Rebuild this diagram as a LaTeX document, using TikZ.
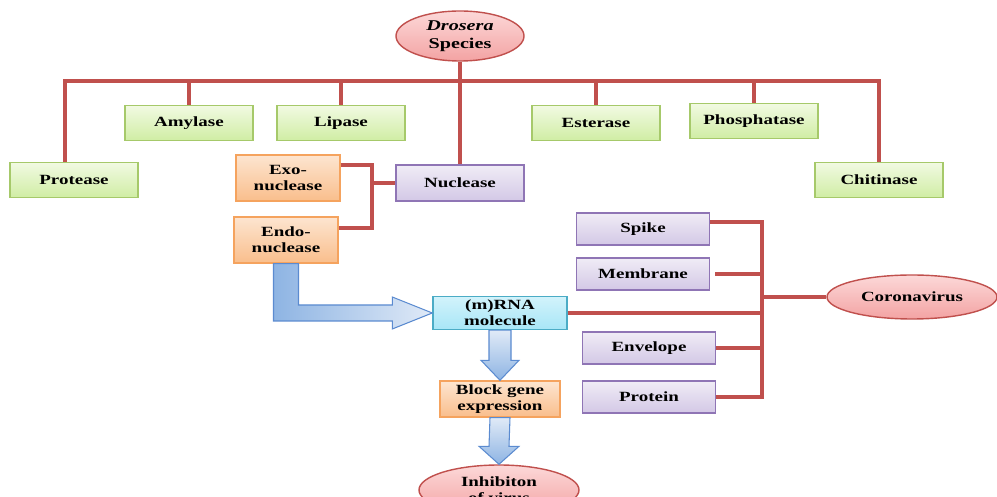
\documentclass[tikz,border=0pt]{standalone}
\usepackage{fontspec}
\newfontfamily\lblfont{Liberation Serif}[FakeStretch=1.35]
\usetikzlibrary{calc,shapes.geometric}
\definecolor{greenline}{HTML}{A6C96A}
\definecolor{greentop}{HTML}{F1FAE2}
\definecolor{greenbot}{HTML}{D0EDA4}
\definecolor{orangeline}{HTML}{F5A35E}
\definecolor{orangetop}{HTML}{FDE5D0}
\definecolor{orangebot}{HTML}{F9BE8C}
\definecolor{purpleline}{HTML}{8F75B5}
\definecolor{purpletop}{HTML}{F0ECF6}
\definecolor{purplebot}{HTML}{D3C8E6}
\definecolor{cyanline}{HTML}{4BACC6}
\definecolor{cyantop}{HTML}{D2F3FB}
\definecolor{cyanbot}{HTML}{A8E6F7}
\definecolor{redline}{HTML}{C0504D}
\definecolor{redtop}{HTML}{FCD8D8}
\definecolor{redbot}{HTML}{F3A3A3}
\definecolor{linkc}{HTML}{C0504D}
\definecolor{bluedark}{HTML}{8EB4E3}
\definecolor{bluelight}{HTML}{E0EAF7}
\definecolor{blueline}{HTML}{5B8BD0}
\tikzset{
  box/.style={rectangle,draw=#1line,top color=#1top,bottom color=#1bot,line width=0.8pt,
    align=center,inner sep=2pt,text=black},
  box/.default=green,
  oval/.style={ellipse,draw=redline,top color=redtop,bottom color=redbot,line width=0.8pt,
    align=center,inner sep=1pt,text=black},
  link/.style={draw=linkc,line width=2.1pt},
  fatarrow/.style={draw=blueline,line width=0.6pt},
}
\begin{document}
\begin{tikzpicture}[font=\lblfont\bfseries\fontsize{8}{9}\selectfont]
    \useasboundingbox (0,0) rectangle (19.94,-9.94);

    \node[oval,minimum width=2.56cm,minimum height=1.0cm,font=\lblfont\bfseries\fontsize{8.5}{10}\selectfont]
      (dros) at (9.2,-0.72) {{\itshape Drosera}\\Species};

    \node[box=green,minimum width=2.56cm,minimum height=0.7cm] (protease) at (1.48,-3.6) {Protease};
    \node[box=green,minimum width=2.56cm,minimum height=0.7cm] (amylase) at (3.78,-2.46) {Amylase};
    \node[box=green,minimum width=2.56cm,minimum height=0.7cm] (lipase) at (6.82,-2.46) {Lipase};
    \node[box=purple,minimum width=2.56cm,minimum height=0.72cm] (nuclease) at (9.2,-3.66) {Nuclease};
    \node[box=green,minimum width=2.56cm,minimum height=0.7cm] (esterase) at (11.92,-2.46) {Esterase};
    \node[box=green,minimum width=2.56cm,minimum height=0.7cm] (phos) at (15.08,-2.42) {Phosphatase};
    \node[box=green,minimum width=2.56cm,minimum height=0.7cm] (chitin) at (17.58,-3.6) {Chitinase};

    \node[box=orange,minimum width=2.08cm,minimum height=0.92cm] (exo) at (5.76,-3.56) {Exo-\\nuclease};
    \node[box=orange,minimum width=2.08cm,minimum height=0.92cm] (endo) at (5.72,-4.8) {Endo-\\nuclease};

    \node[box=cyan,minimum width=2.68cm,minimum height=0.64cm] (rna) at (10.0,-6.26) {(m)RNA\\molecule};
    \node[box=orange,minimum width=2.4cm,minimum height=0.72cm] (block) at (10.0,-7.98) {Block gene\\expression};
    \node[oval,minimum width=3.2cm,minimum height=1.0cm] (inhib) at (9.98,-9.8) {Inhibiton\\of virus};

    \node[box=purple,minimum width=2.66cm,minimum height=0.64cm] (spike) at (12.86,-4.58) {Spike};
    \node[box=purple,minimum width=2.66cm,minimum height=0.64cm] (memb) at (12.86,-5.48) {Membrane};
    \node[box=purple,minimum width=2.66cm,minimum height=0.64cm] (envel) at (12.98,-6.96) {Envelope};
    \node[box=purple,minimum width=2.66cm,minimum height=0.64cm] (protein) at (12.98,-7.94) {Protein};
    \node[oval,minimum width=3.4cm,minimum height=0.88cm] (corona) at (18.24,-5.94) {Coronavirus};

    % enzyme tree
    \coordinate (tl) at (1.3,-1.62);
    \coordinate (tr) at (17.58,-1.62);
    \draw[link] (protease.north -| tl) -- (tl) -- (tr) -- (chitin.north);
    \draw[link] (amylase.north) -- (amylase.north |- tl);
    \draw[link] (lipase.north) -- (lipase.north |- tl);
    \draw[link] (esterase.north) -- (esterase.north |- tl);
    \draw[link] (phos.north) -- (phos.north |- tl);
    \draw[link] (dros.south) -- (nuclease.north);

    \coordinate (nb) at (7.44,-3.66);
    \draw[link] ([yshift=2.6mm]exo.east) -| (nb) |- ([yshift=2.4mm]endo.east);
    \draw[link] (nb) -- (nuclease.west);

    % virus parts
    \coordinate (rb) at (15.24,-5.94);
    \draw[link] ([yshift=1.4mm]spike.east) -| (protein.east -| rb) -- (protein.east);
    \draw[link] ([xshift=1mm]memb.east) -- (memb.east -| rb);
    \draw[link] (rna.east) -- (rna.east -| rb);
    \draw[link] (envel.east) -- (envel.east -| rb);
    \draw[link] (rb) -- (corona.west);

    % block arrows
    \path[fatarrow,left color=bluedark,right color=bluelight]
      ($(endo.south)+(-0.25,0)$) |- ($(rna.west)+(-0.8,-0.16)$) -- ++(0,-0.16) -- (rna.west)
      -- ($(rna.west)+(-0.8,0.32)$) -- ++(0,-0.16) -| ($(endo.south)+(0.25,0)$) -- cycle;
    \path[fatarrow,top color=bluelight,bottom color=bluedark]
      ($(rna.south)+(-0.22,0)$) -- ($(block.north)+(-0.22,0.4)$) -- ++(-0.16,0) -- (block.north)
      -- ($(block.north)+(0.38,0.4)$) -- ++(-0.16,0) -- ($(rna.south)+(0.22,0)$) -- cycle;
    \path[fatarrow,top color=bluelight,bottom color=bluedark]
      ($(block.south)+(-0.2,0)$) -- ($(inhib.north)+(-0.2,0.36)$) -- ++(-0.2,0) -- (inhib.north)
      -- ($(inhib.north)+(0.4,0.36)$) -- ++(-0.2,0) -- ($(block.south)+(0.2,0)$) -- cycle;
\end{tikzpicture}
\end{document}
